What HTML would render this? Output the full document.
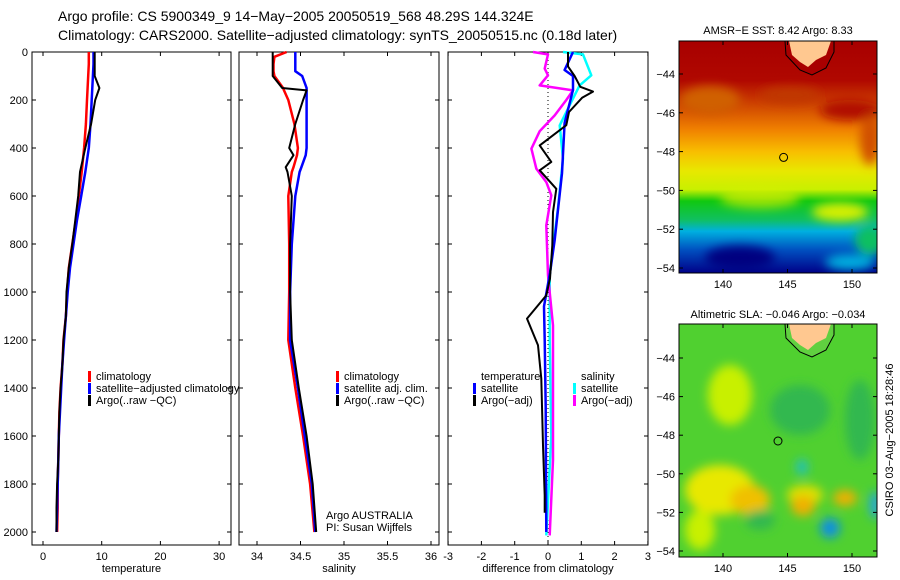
<!DOCTYPE html>
<html><head><meta charset="utf-8"><style>
body{margin:0;background:#fff}
svg{display:block;font-family:"Liberation Sans",sans-serif}
text{font-size:11px;fill:#000}
</style></head><body>
<svg id="chart" width="900" height="580" viewBox="0 0 900 580" xmlns="http://www.w3.org/2000/svg">
<defs>
<linearGradient id="sstg" x1="0" y1="0" x2="0" y2="1">
<stop offset="0" stop-color="#a80000"/><stop offset="0.17" stop-color="#b00800"/>
<stop offset="0.28" stop-color="#d04800"/><stop offset="0.38" stop-color="#f08000"/>
<stop offset="0.48" stop-color="#f8c000"/><stop offset="0.56" stop-color="#e8e800"/>
<stop offset="0.64" stop-color="#c8f000"/>
<stop offset="0.69" stop-color="#10c810"/><stop offset="0.77" stop-color="#10c060"/>
<stop offset="0.82" stop-color="#00b0e0"/><stop offset="0.9" stop-color="#0050c0"/>
<stop offset="1" stop-color="#000088"/></linearGradient>
<filter id="bl" x="-50%" y="-50%" width="200%" height="200%"><feGaussianBlur stdDeviation="5"/></filter>
<clipPath id="c1"><rect x="679" y="41" width="198" height="232"/></clipPath>
<clipPath id="c2"><rect x="679" y="324" width="198" height="233"/></clipPath>
</defs>
<g id="titles">
<text x="58" y="21" style="font-size:14px">Argo profile: CS 5900349_9 14−May−2005 20050519_568 48.29S 144.324E</text>
<text x="58" y="40" style="font-size:14px">Climatology: CARS2000. Satellite−adjusted climatology: synTS_20050515.nc (0.18d later)</text>
</g>
<g id="p1"></g>
<g id="p2"></g>
<g id="p3"></g>
<g id="map1" >
<g clip-path="url(#c1)">
<rect x="679" y="41" width="198" height="232" fill="url(#sstg)"/>
<g filter="url(#bl)">
<ellipse cx="710" cy="100" rx="30" ry="14" fill="#d06000"/>
<ellipse cx="790" cy="95" rx="30" ry="8" fill="#c03800"/>
<ellipse cx="850" cy="110" rx="30" ry="10" fill="#b01000"/>
<ellipse cx="870" cy="140" rx="10" ry="25" fill="#d05000"/>
<ellipse cx="840" cy="212" rx="28" ry="9" fill="#d8f000"/>
<ellipse cx="760" cy="198" rx="40" ry="10" fill="#d8f000" opacity="0.7"/>
<ellipse cx="870" cy="240" rx="15" ry="15" fill="#10c060"/>
<ellipse cx="850" cy="262" rx="25" ry="8" fill="#00b0e0"/>
<ellipse cx="740" cy="258" rx="35" ry="12" fill="#000080"/>
</g>
<path d="M785 41 L786 55 L800 70 L812 75 L826 68 L834 52 L834 41 Z" fill="#a80000" stroke="#000" stroke-width="1"/>
<path d="M789 41 L792 55 L800 62 L808 67 L816 60 L826 55 L831 41 Z" fill="#ffc890"/>
</g>
<rect x="679" y="41" width="198" height="232" fill="none" stroke="#000"/>
<circle cx="783.6" cy="157.4" r="4" fill="none" stroke="#000"/>
<text x="778" y="34" text-anchor="middle">AMSR−E SST: 8.42 Argo: 8.33</text>
</g>
<g id="map2">
<g clip-path="url(#c2)">
<rect x="679" y="324" width="198" height="233" fill="#50d030"/>
<g filter="url(#bl)">
<ellipse cx="720" cy="490" rx="35" ry="25" fill="#e8e800"/>
<ellipse cx="750" cy="500" rx="20" ry="15" fill="#f0c000"/>
<ellipse cx="730" cy="395" rx="22" ry="30" fill="#c8f000"/>
<ellipse cx="800" cy="410" rx="30" ry="25" fill="#30b850"/>
<ellipse cx="805" cy="495" rx="18" ry="10" fill="#e0e000"/>
<ellipse cx="803" cy="506" rx="12" ry="10" fill="#f0b000"/>
<ellipse cx="845" cy="498" rx="12" ry="8" fill="#f0b000"/>
<ellipse cx="830" cy="528" rx="10" ry="10" fill="#1090e0"/>
<ellipse cx="802" cy="467" rx="6" ry="8" fill="#20c0c0"/>
<ellipse cx="875" cy="505" rx="5" ry="14" fill="#20a0f0"/>
<ellipse cx="760" cy="520" rx="15" ry="10" fill="#30b850"/>
<ellipse cx="860" cy="420" rx="15" ry="40" fill="#30b850"/>
<ellipse cx="700" cy="530" rx="15" ry="20" fill="#c8f000"/>
</g>
<path d="M785 324 L786 338 L800 352 L812 357 L826 350 L834 335 L834 324 Z" fill="#60d040" stroke="#000" stroke-width="1"/>
<path d="M789 324 L792 338 L800 345 L808 350 L816 343 L826 338 L831 324 Z" fill="#ffc890"/>
</g>
<rect x="679" y="324" width="198" height="233" fill="none" stroke="#000"/>
<circle cx="778" cy="441" r="4" fill="none" stroke="#000"/>
<text x="778" y="318" text-anchor="middle">Altimetric SLA: −0.046 Argo: −0.034</text>
<text transform="translate(893,440) rotate(-90)" text-anchor="middle">CSIRO 03−Aug−2005 18:28:46</text>
</g>
</svg>
<script>
const depths=[0,50,100,150,200,300,400,500,600,700,800,900,1000,1100,1200,1300,1400,1500,1600,1700,1800,1900,2000];
const tempClim=[7.8,7.8,7.7,7.6,7.5,7.3,7.0,6.6,6.1,5.6,5.0,4.4,4.1,3.9,3.5,3.3,3.0,2.8,2.7,2.6,2.5,2.5,2.4];
const tempSat=[8.6,8.6,8.5,8.4,8.3,8.1,7.8,7.2,6.5,5.8,5.2,4.6,4.2,3.9,3.6,3.3,3.1,2.9,2.7,2.6,2.5,2.4,2.3];
const tempArgo=[8.8,8.8,8.8,9.6,8.9,8.2,7.2,6.3,6.0,5.5,5.0,4.4,4.0,3.9,3.5,3.3,3.0,2.8,2.7,2.6,2.4,2.3,2.3];
const salDepths=[0,20,50,80,100,150,160,200,300,400,430,480,500,600,800,1000,1200,1400,1600,1800,2000];
const salClim=[34.34,34.2,34.19,34.19,34.2,34.3,34.31,34.36,34.43,34.47,34.46,34.42,34.40,34.36,34.37,34.37,34.36,34.44,34.53,34.61,34.66];
const salSat=[34.44,34.44,34.44,34.44,34.52,34.57,34.57,34.57,34.57,34.57,34.56,34.51,34.49,34.44,34.40,34.38,34.38,34.47,34.55,34.63,34.67];
const salArgo=[34.18,34.18,34.18,34.18,34.18,34.29,34.57,34.53,34.44,34.37,34.42,34.33,34.35,34.40,34.38,34.38,34.40,34.48,34.57,34.64,34.68];
const dTsatD=[0,75,100,158,296,505,783,920,1060,1200,1480,2000];
const dTsat=[0.75,0.5,0.75,0.75,0.5,0.42,0.2,0.06,-0.12,-0.1,-0.07,-0.05];
const dTargoD=[0,60,100,145,165,190,250,305,347,389,458,493,570,667,806,944,1014,1111,1222,1361,1639,1847,1920];
const dTargo=[0.6,0.6,0.8,0.97,1.35,1.03,0.63,0.55,0.15,-0.25,0.1,-0.25,0.25,0.15,0.13,0.06,-0.05,-0.63,-0.3,-0.2,-0.15,-0.1,-0.1];
const dSsatD=[0,10,97,139,208,306,444,650,930,1200,1600,2014];
const dSsat=[0.45,1.05,1.3,0.95,0.7,0.35,0.45,0.3,0.05,0.05,0.1,-0.05];
const dSargoD=[0,10,69,97,139,160,200,264,330,403,486,542,597,722,930,1139,1361,1700,2014];
const dSargo=[-0.45,0,-0.1,0,-0.25,0.75,0.55,0.2,-0.25,-0.5,-0.35,-0.05,0.1,-0.05,0,0.15,0.15,0.15,0.05];
const depthTicks=[0,200,400,600,800,1000,1200,1400,1600,1800,2000];
const tempTicks=[0,10,20,30];
const salTicks=[34,34.5,35,35.5,36];
const diffTicks=[-3,-2,-1,0,1,2,3];
const lonTicks=[140,145,150];
const latTicks=[-44,-46,-48,-50,-52,-54];
const NS='http://www.w3.org/2000/svg';
const Y=d=>52+0.24*d;
const TOP=52,BOT=545;
function mk(tag,attrs,parent){const e=document.createElementNS(NS,tag);for(const k in attrs)e.setAttribute(k,attrs[k]);parent.appendChild(e);return e;}
function panel(g,x0,x1,X,ticks,fmt,title,leftLabels){
  const box=mk('rect',{x:x0,y:TOP,width:x1-x0,height:BOT-TOP,fill:'none',stroke:'#000','stroke-width':1},g);
  
  
  ticks.forEach(t=>{const x=X(t);
    mk('line',{x1:x,x2:x,y1:TOP,y2:TOP+4,stroke:'#000'},g);
    mk('line',{x1:x,x2:x,y1:BOT,y2:BOT-4,stroke:'#000'},g);
    const tx=mk('text',{x:x,y:BOT+15,'text-anchor':'middle'},g);tx.textContent=fmt(t);
    
    
  });
  depthTicks.forEach(d=>{const y=Y(d);
    mk('line',{x1:x0,x2:x0+4,y1:y,y2:y,stroke:'#000'},g);
    mk('line',{x1:x1,x2:x1-4,y1:y,y2:y,stroke:'#000'},g);
    if(leftLabels){const tx=mk('text',{x:28,y:y+4,'text-anchor':'end'},g);tx.textContent=d;
      
      }
  });
  const tt=mk('text',{x:(x0+x1)/2,y:572,'text-anchor':'middle'},g);tt.textContent=title;
  
  
}
function line(g,X,ds,vs,color,w,name){
  const p=mk('polyline',{points:ds.map((d,i)=>X(vs[i]).toFixed(1)+','+Y(d).toFixed(1)).join(' '),fill:'none',stroke:color,'stroke-width':w,'stroke-linejoin':'round'},g);
  
  
}
function legend(g,x,y,items){
  items.forEach((it,i)=>{
    if(it[1]){const r=mk('rect',{x:x,y:y+i*12-9,width:3,height:11,fill:it[1]},g);
      
      }
    const t=mk('text',{x:x+8,y:y+i*12},g);t.textContent=it[0];
    
    
  });
}
const g1=document.getElementById('p1');
const X1=t=>43+5.87*t;
panel(g1,32,231,X1,tempTicks,t=>t,'temperature',true);
line(g1,X1,depths,tempClim,'#f00',2.5,'temp-climatology-line');
line(g1,X1,depths,tempSat,'#00f',2.5,'temp-satellite-line');
line(g1,X1,depths,tempArgo,'#000',2,'temp-argo-line');
legend(g1,88,380,[['climatology','#f00'],['satellite−adjusted climatology','#00f'],['Argo(..raw −QC)','#000']]);
const g2=document.getElementById('p2');
const X2=s=>257+87*(s-34);
panel(g2,239,439,X2,salTicks,t=>t,'salinity',false);
line(g2,X2,salDepths,salClim,'#f00',2.5,'sal-climatology-line');
line(g2,X2,salDepths,salSat,'#00f',2.5,'sal-satellite-line');
line(g2,X2,salDepths,salArgo,'#000',2,'sal-argo-line');
legend(g2,336,380,[['climatology','#f00'],['satellite adj. clim.','#00f'],['Argo(..raw −QC)','#000']]);
legend(g2,318,519,[['Argo AUSTRALIA',null],['PI: Susan Wijffels',null]]);
const g3=document.getElementById('p3');
const X3=v=>548+33.3*v;
panel(g3,448,648,X3,diffTicks,t=>t,'difference from climatology',false);
const z=mk('line',{x1:X3(0),x2:X3(0),y1:TOP,y2:BOT,stroke:'#000','stroke-dasharray':'1,3'},g3);


line(g3,X3,dSsatD,dSsat,'#0ff',2.5,'sal-satellite-diff-line');
line(g3,X3,dSargoD,dSargo,'#f0f',2.5,'sal-argo-diff-line');
line(g3,X3,dTsatD,dTsat,'#00f',2.5,'temp-satellite-diff-line');
line(g3,X3,dTargoD,dTargo,'#000',2,'temp-argo-diff-line');
legend(g3,473,380,[['temperature',null],['satellite','#00f'],['Argo(−adj)','#000']]);
legend(g3,573,380,[['salinity',null],['satellite','#0ff'],['Argo(−adj)','#f0f']]);
function mapAxes(gid,y0,y1,latY){
  const g=document.getElementById(gid);
  const LX=l=>723+(l-140)*12.9;
  lonTicks.forEach(l=>{const x=LX(l);
    mk('line',{x1:x,x2:x,y1:y0,y2:y0+4,stroke:'#000'},g);
    mk('line',{x1:x,x2:x,y1:y1,y2:y1-4,stroke:'#000'},g);
    const t=mk('text',{x:x,y:y1+15,'text-anchor':'middle'},g);t.textContent=l;
    
    
  });
  latTicks.forEach(l=>{const y=latY(l);
    mk('line',{x1:679,x2:683,y1:y,y2:y,stroke:'#000'},g);
    mk('line',{x1:877,x2:873,y1:y,y2:y,stroke:'#000'},g);
    const t=mk('text',{x:675,y:y+4,'text-anchor':'end'},g);t.textContent='−'+Math.abs(l);
    
    
  });
}
mapAxes('map1',41,273,l=>74+(-44-l)*19.4);
mapAxes('map2',324,557,l=>358+(-44-l)*19.3);
</script>
</body></html>
